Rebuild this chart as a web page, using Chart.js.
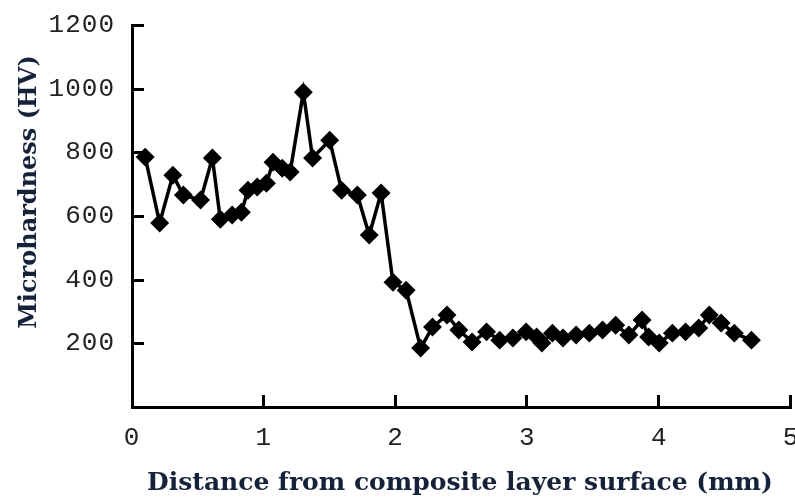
<!DOCTYPE html>
<html>
<head>
<meta charset="utf-8">
<script src="https://cdn.jsdelivr.net/npm/chart.js@4/dist/chart.umd.min.js"></script>
<style>
  html, body { margin: 0; padding: 0; background: #fff; }
  #wrap { width: 795px; height: 503px; position: relative; }
</style>
</head>
<body>
<div id="wrap"><canvas id="hvChart"></canvas></div>
<script>
// distance from surface (mm) and microhardness (HV)
const distance = [0.10, 0.21, 0.31, 0.39, 0.52, 0.61, 0.67, 0.76, 0.83, 0.88,
    0.95, 1.02, 1.07, 1.14, 1.20, 1.30, 1.37, 1.50, 1.59, 1.71,
    1.80, 1.89, 1.98, 2.08, 2.19, 2.28, 2.39, 2.48, 2.58, 2.69,
    2.79, 2.89, 2.99, 3.07, 3.11, 3.19, 3.27, 3.37, 3.47, 3.57,
    3.67, 3.77, 3.87, 3.92, 4.00, 4.10, 4.20, 4.30, 4.38, 4.47,
    4.57, 4.70];
const hardness = [785, 578, 728, 666, 650, 782, 590, 603, 612, 681,
    691, 703, 769, 750, 738, 989, 782, 838, 681, 666,
    540, 672, 392, 367, 185, 251, 289, 242, 204, 236,
    210, 217, 236, 220, 201, 232, 217, 226, 232, 242,
    257, 226, 273, 220, 201, 232, 236, 248, 289, 264,
    232, 210];
const xTicks = [0, 1, 2, 3, 4, 5];
const yTicks = [0, 200, 400, 600, 800, 1000, 1200];
const xTitle = 'Distance from composite layer surface (mm)';
const yTitle = 'Microhardness (HV)';

const points = distance.map((d, i) => ({ x: d, y: hardness[i] }));

/* 刻度線朝內 + 軸標題 */
const axisDeco = {
    id: 'axisDeco',
    beforeDraw(chart) {
        chart.ctx.letterSpacing = '1px';
    },
    afterDraw(chart) {
        const ctx = chart.ctx;
        const { x, y } = chart.scales;
        const area = chart.chartArea;
        ctx.save();
        ctx.letterSpacing = '0px';
        ctx.strokeStyle = '#000';
        ctx.lineWidth = 3;
        ctx.beginPath();
        yTicks.forEach(v => {
            if (v === 0) return;
            const py = Math.round(y.getPixelForValue(v)) + 0.5;
            ctx.moveTo(area.left, py);
            ctx.lineTo(area.left + 12, py);
        });
        xTicks.forEach(v => {
            if (v === 0) return;
            const px = Math.round(x.getPixelForValue(v)) - 0.5;
            ctx.moveTo(px, area.bottom);
            ctx.lineTo(px, area.bottom - 12);
        });
        ctx.stroke();

        ctx.fillStyle = '#16213a';
        ctx.textAlign = 'center';
        ctx.textBaseline = 'middle';
        ctx.font = 'bold 25px "DejaVu Serif"';
        ctx.fillText(xTitle, 460, 483);
        ctx.font = 'bold 24px "DejaVu Serif"';
        ctx.translate(30, 192);
        ctx.rotate(-Math.PI / 2);
        ctx.fillText(yTitle, 0, 0);
        ctx.restore();
    }
};

new Chart(document.getElementById('hvChart'), {
    type: 'scatter',
    data: {
        datasets: [{
            data: points,
            showLine: true,
            borderColor: '#000',
            backgroundColor: '#000',
            borderWidth: 3.5,
            pointStyle: 'rectRot',
            pointRadius: 7,
            pointHoverRadius: 7,
            tension: 0
        }]
    },
    options: {
        responsive: true,
        maintainAspectRatio: false,
        animation: false,
        layout: { autoPadding: false, padding: { top: 25, left: 0, right: 0, bottom: 0 } },
        plugins: {
            legend: { display: false },
            tooltip: { enabled: false }
        },
        scales: {
            x: {
                type: 'linear',
                min: 0,
                max: 5,
                afterBuildTicks: s => { s.ticks = xTicks.map(v => ({ value: v })); },
                grid: { display: false },
                border: { color: '#000', width: 3 },
                ticks: {
                    color: '#222',
                    font: { family: '"Liberation Mono"', size: 26 },
                    padding: 8,
                    maxRotation: 0
                },
                afterFit: s => { s.height = 96; s.paddingRight = 4; s.paddingLeft = 0; }
            },
            y: {
                min: 0,
                max: 1200,
                afterBuildTicks: s => { s.ticks = yTicks.map(v => ({ value: v })); },
                grid: { display: false },
                border: { color: '#000', width: 3 },
                ticks: {
                    color: '#222',
                    font: { family: '"Liberation Mono"', size: 26 },
                    padding: 9,
                    callback: v => v === 0 ? '' : String(v)
                },
                afterFit: s => { s.width = 132; s.paddingTop = 0; s.paddingBottom = 0; }
            }
        }
    },
    plugins: [axisDeco]
});
</script>
</body>
</html>
